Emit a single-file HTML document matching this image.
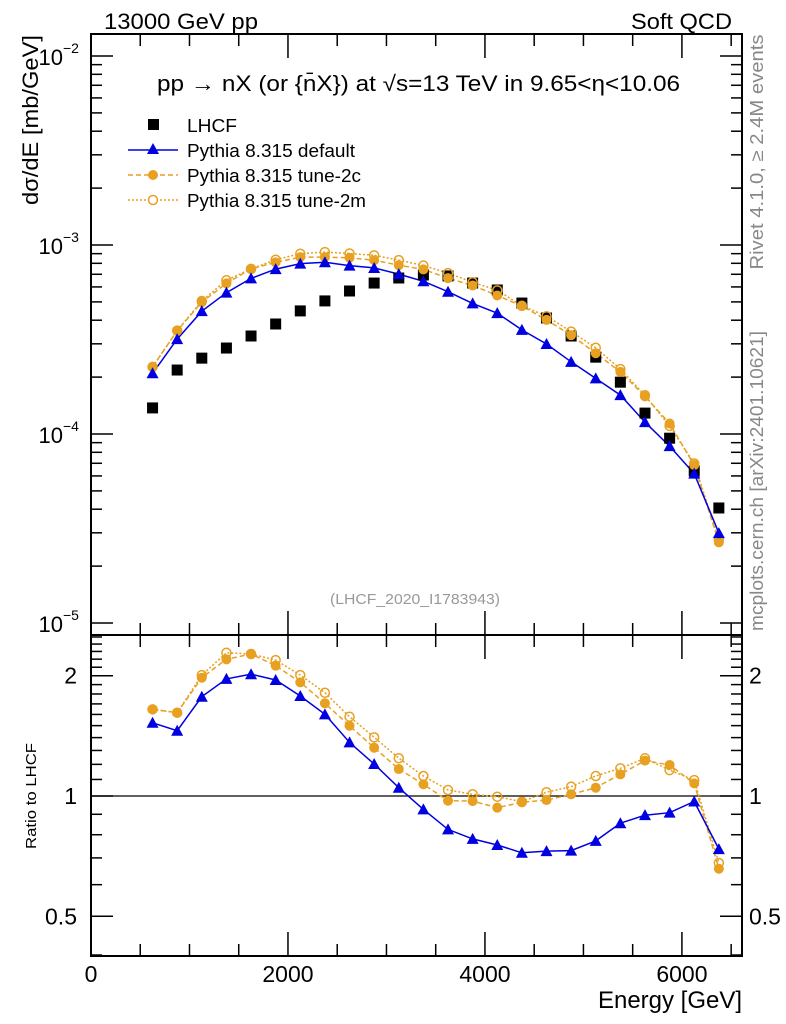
<!DOCTYPE html>
<html><head><meta charset="utf-8"><style>
html,body{margin:0;padding:0;background:#fff;}
svg{display:block;font-family:"Liberation Sans",sans-serif;}
</style></head><body>
<svg id="chart" width="786" height="1024" viewBox="0 0 786 1024" xmlns="http://www.w3.org/2000/svg">
<text x="104" y="29" font-size="22" textLength="154" lengthAdjust="spacingAndGlyphs">13000 GeV pp</text>
<text x="631" y="29" font-size="22" textLength="101" lengthAdjust="spacingAndGlyphs">Soft QCD</text>
<text x="157" y="91" font-size="22" textLength="523" lengthAdjust="spacingAndGlyphs">pp  →  nX (or {n̄X}) at √s=13 TeV in 9.65&lt;η&lt;10.06</text>
<text transform="translate(38,120) rotate(-90)" font-size="22" text-anchor="middle" textLength="170" lengthAdjust="spacingAndGlyphs">dσ/dE [mb/GeV]</text>
<text transform="translate(36,796) rotate(-90)" font-size="15" text-anchor="middle" textLength="106" lengthAdjust="spacingAndGlyphs">Ratio to LHCF</text>
<text transform="translate(763,152) rotate(-90)" font-size="18" fill="#888" text-anchor="middle" textLength="235" lengthAdjust="spacingAndGlyphs">Rivet 4.1.0, ≥ 2.4M events</text>
<text transform="translate(763,481) rotate(-90)" font-size="18" fill="#888" text-anchor="middle" textLength="300" lengthAdjust="spacingAndGlyphs">mcplots.cern.ch [arXiv:2401.10621]</text>
<text x="415" y="604" font-size="15" fill="#999" text-anchor="middle" textLength="170" lengthAdjust="spacingAndGlyphs">(LHCF_2020_I1783943)</text>
<text x="598" y="1008" font-size="24" textLength="144" lengthAdjust="spacingAndGlyphs">Energy [GeV]</text>
<g id="legend">
 <g><rect x="148" y="119" width="11" height="11" fill="#000"/><text x="187" y="132" font-size="18" textLength="50" lengthAdjust="spacingAndGlyphs">LHCF</text></g>
 <g><line x1="128" y1="150" x2="178" y2="150" stroke="#0000e0" stroke-width="1.5"/><path d="M153,143 L159,154 L147,154 Z" fill="#0000e0"/><text x="187" y="157" font-size="18" textLength="168" lengthAdjust="spacingAndGlyphs">Pythia 8.315 default</text></g>
 <g><line x1="128" y1="175" x2="178" y2="175" stroke="#e8a020" stroke-width="1.5" stroke-dasharray="5,3"/><circle cx="153" cy="175" r="5" fill="#e8a020"/><text x="187" y="182" font-size="18" textLength="174" lengthAdjust="spacingAndGlyphs">Pythia 8.315 tune-2c</text></g>
 <g><line x1="128" y1="200" x2="178" y2="200" stroke="#e8a020" stroke-width="1.5" stroke-dasharray="2,2"/><circle cx="153" cy="200" r="4.5" fill="#fff" stroke="#e8a020" stroke-width="1.5"/><text x="187" y="207" font-size="18" textLength="179" lengthAdjust="spacingAndGlyphs">Pythia 8.315 tune-2m</text></g>
</g>
<g id="axes"></g>
<g id="series"></g>
</svg>
<script>
const energies = [625,875,1125,1375,1625,1875,2125,2375,2625,2875,3125,3375,3625,3875,4125,4375,4625,4875,5125,5375,5625,5875,6125,6375];
const lhcf = [1.374e-4,2.18e-4,2.52e-4,2.85e-4,3.30e-4,3.82e-4,4.48e-4,5.06e-4,5.71e-4,6.29e-4,6.69e-4,6.94e-4,6.86e-4,6.29e-4,5.78e-4,4.93e-4,4.11e-4,3.30e-4,2.55e-4,1.88e-4,1.29e-4,9.5e-5,6.37e-5,4.06e-5];
const pyDefault = [2.095e-4,3.176e-4,4.465e-4,5.595e-4,6.656e-4,7.453e-4,7.970e-4,8.101e-4,7.777e-4,7.561e-4,7.018e-4,6.426e-4,5.660e-4,4.912e-4,4.358e-4,3.555e-4,2.992e-4,2.409e-4,1.969e-4,1.607e-4,1.155e-4,8.63e-5,6.17e-5,2.99e-5];
const pyTune2c = [2.264e-4,3.523e-4,4.982e-4,6.264e-4,7.478e-4,8.095e-4,8.624e-4,8.632e-4,8.559e-4,8.309e-4,7.814e-4,7.426e-4,6.675e-4,6.108e-4,5.404e-4,4.753e-4,4.015e-4,3.333e-4,2.675e-4,2.130e-4,1.582e-4,1.136e-4,6.85e-5,2.67e-5];
const pyTune2m = [2.264e-4,3.523e-4,5.058e-4,6.504e-4,7.478e-4,8.358e-4,8.991e-4,9.174e-4,9.016e-4,8.819e-4,8.316e-4,7.787e-4,7.100e-4,6.353e-4,5.757e-4,4.772e-4,4.200e-4,3.482e-4,2.861e-4,2.205e-4,1.603e-4,1.103e-4,6.98e-5,2.76e-5];
const xTicks = [0,2000,4000,6000];
const xTickLabels = ["0","2000","4000","6000"];
const yDecades = [-5,-4,-3,-2];
const yTickLabels = ["10","10","10","10"];
const yTickExps = ["−5","−4","−3","−2"];
const rTicks = [0.5,1,2];
const rTickLabels = ["0.5","1","2"];

const NS="http://www.w3.org/2000/svg";
const L=91,R=742,T=34,MID=635,B=956;
const X=e=>L+e*(R-L)/6610;
const Y=v=>245-(Math.log10(v)+3)*189;
const RY=r=>796-Math.log2(r)*120.3;
function mk(parent,tag,attrs){const el=document.createElementNS(NS,tag);for(const k in attrs)el.setAttribute(k,attrs[k]);parent.appendChild(el);return el;}
const axes=document.getElementById('axes');
const series=document.getElementById('series');

let f1=mk(axes,'rect',{x:L,y:T,width:R-L,height:MID-T,fill:'none',stroke:'#000','stroke-width':2});


let f2=mk(axes,'rect',{x:L,y:MID,width:R-L,height:B-MID,fill:'none',stroke:'#000','stroke-width':2});


let one=mk(axes,'line',{x1:L,y1:RY(1),x2:R,y2:RY(1),stroke:'#000','stroke-width':1.3});



for(let e=0;e<=6500;e+=500){
 const x=X(e),len=(e%2000===0)?24:12;
 for(const [y0,dir] of [[T,1],[MID,-1],[MID,1],[B,-1]]){
  const t=mk(axes,'line',{x1:x,y1:y0,x2:x,y2:y0+dir*len,stroke:'#000','stroke-width':1.5});
  
  
 }
}
xTicks.forEach((e,i)=>{
 const t=mk(axes,'text',{x:X(e),y:982,'font-size':23,'text-anchor':'middle'});
 t.textContent=xTickLabels[i];
 
 
});
yDecades.forEach((d,i)=>{
 for(let m=1;m<10;m++){
  const y=Y(m*Math.pow(10,d));
  if(y<T||y>MID)continue;
  const len=m===1?22:11;
  for(const [x0,dir] of [[L,1],[R,-1]]){
   const t=mk(axes,'line',{x1:x0,y1:y,x2:x0+dir*len,y2:y,stroke:'#000','stroke-width':1.5});
   
   
  }
 }
 const y=Y(Math.pow(10,d));
 const t=mk(axes,'text',{x:63,y:y+9,'font-size':22,'text-anchor':'end'});
 t.textContent=yTickLabels[i];
 
 
 const s=mk(axes,'text',{x:63,y:y-3,'font-size':14});
 s.textContent=yTickExps[i];
 
 
});
const rMinor=[0.4,0.5,0.6,0.7,0.8,0.9,1,1.1,1.2,1.3,1.4,1.5,1.6,1.7,1.8,1.9,2,2.1,2.2,2.3,2.4,2.5];
rMinor.forEach(r=>{
 const y=RY(r); if(y<MID||y>B)return;
 const major=rTicks.includes(r);
 const len=major?22:11;
 for(const [x0,dir] of [[L,1],[R,-1]]){
  const t=mk(axes,'line',{x1:x0,y1:y,x2:x0+dir*len,y2:y,stroke:'#000','stroke-width':1.5});
  
  
 }
});
rTicks.forEach((r,i)=>{
 for(const [x,anc] of [[77,'end'],[749,'start']]){
  const t=mk(axes,'text',{x:x,y:RY(r)+8,'font-size':23,'text-anchor':anc});
  t.textContent=rTickLabels[i];
  
  
 }
});

const BLUE='#0000e0',ORANGE='#e8a020';
function clipR(y){return Math.max(MID,Math.min(B,y));}
function drawLine(vals,fy,color,dash,name){
 const pts=vals.map((v,i)=>X(energies[i]).toFixed(1)+','+fy(v,i).toFixed(1)).join(' ');
 const p=mk(series,'polyline',{points:pts,fill:'none',stroke:color,'stroke-width':1.5,'stroke-dasharray':dash});
 
 
}
function drawMarkers(vals,fy,kind,name){
 vals.forEach((v,i)=>{
  const x=X(energies[i]),y=fy(v,i);let m;
  if(kind==='tri') m=mk(series,'path',{d:`M${x},${y-6} L${x+6},${y+5} L${x-6},${y+5} Z`,fill:BLUE});
  else if(kind==='dot') m=mk(series,'circle',{cx:x,cy:y,r:5,fill:ORANGE});
  else if(kind==='ring') m=mk(series,'circle',{cx:x,cy:y,r:4.5,fill:'none',stroke:ORANGE,'stroke-width':1.5});
  else m=mk(series,'rect',{x:x-5.5,y:y-5.5,width:11,height:11,fill:'#000'});
  
  
 });
}
const mainY=v=>Y(v);
const ratioY=(v,i)=>clipR(RY(v/lhcf[i]));
drawLine(pyTune2m,mainY,ORANGE,'2,2','tune-2m-line');
drawLine(pyTune2c,mainY,ORANGE,'5,3','tune-2c-line');
drawLine(pyDefault,mainY,BLUE,'','default-line');
drawMarkers(lhcf,mainY,'sq','lhcf-point');
drawMarkers(pyTune2m,mainY,'ring','tune-2m-point');
drawMarkers(pyTune2c,mainY,'dot','tune-2c-point');
drawMarkers(pyDefault,mainY,'tri','default-point');
drawLine(pyTune2m,ratioY,ORANGE,'2,2','tune-2m-ratio-line');
drawLine(pyTune2c,ratioY,ORANGE,'5,3','tune-2c-ratio-line');
drawLine(pyDefault,ratioY,BLUE,'','default-ratio-line');
drawMarkers(pyTune2m,ratioY,'ring','tune-2m-ratio-point');
drawMarkers(pyTune2c,ratioY,'dot','tune-2c-ratio-point');
drawMarkers(pyDefault,ratioY,'tri','default-ratio-point');
</script>
</body></html>
